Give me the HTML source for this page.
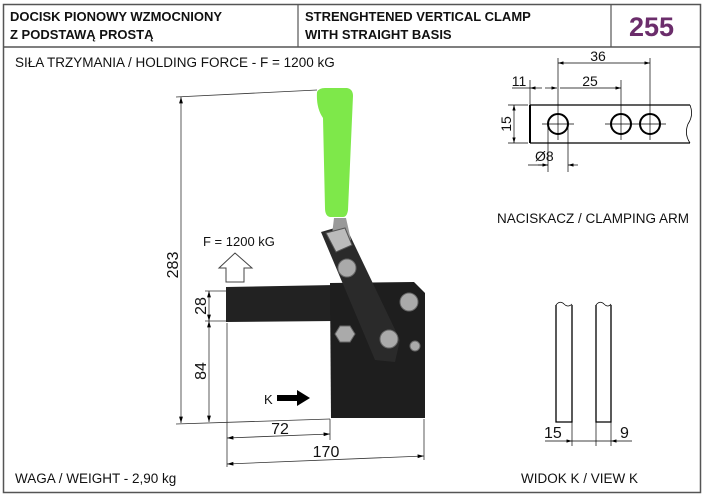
<!DOCTYPE html>
<html><head><meta charset="utf-8"><style>
html,body{margin:0;padding:0;background:#fff;}
svg{display:block;font-family:"Liberation Sans",sans-serif;}
</style></head><body>
<svg width="706" height="499" viewBox="0 0 706 499" xmlns="http://www.w3.org/2000/svg">
<defs>
<marker id="a" viewBox="0 0 10 6" refX="10" refY="3" markerWidth="8" markerHeight="5" orient="auto-start-reverse"><path d="M0,0L10,3L0,6z" fill="#000"/></marker>
</defs>
<rect x="3.5" y="4.5" width="697" height="488" fill="none" stroke="#555" stroke-width="1.5"/>
<line x1="3" y1="47" x2="701" y2="47" stroke="#555" stroke-width="1.5"/>
<line x1="298" y1="4" x2="298" y2="47" stroke="#555" stroke-width="1.2"/>
<line x1="611" y1="4" x2="611" y2="47" stroke="#555" stroke-width="1.2"/>
<g font-weight="bold" font-size="13" fill="#111">
<text x="10" y="21">DOCISK PIONOWY WZMOCNIONY</text>
<text x="10" y="39">Z PODSTAWĄ PROSTĄ</text>
<text x="305" y="21">STRENGHTENED VERTICAL CLAMP</text>
<text x="305" y="39">WITH STRAIGHT BASIS</text>
</g>
<text x="629" y="36" font-size="27" font-weight="bold" fill="#6b2d6b">255</text>
<g font-size="13.5" fill="#111">
<text x="15" y="67">SIŁA TRZYMANIA / HOLDING FORCE - F = 1200 kG</text>
<text x="15" y="483">WAGA / WEIGHT - 2,90 kg</text>
<text x="497" y="223">NACISKACZ / CLAMPING ARM</text>
<text x="521" y="483">WIDOK K / VIEW K</text>
</g>

<!-- clamp -->
<path d="M226,287 L335,285 L335,321 L226,322 Z" fill="#222"/>
<path d="M330,283 L414,282 L425,293 L425,418 L331,418 Z" fill="#1e1e1e"/>
<path d="M321,232 L345,225 L400,340 L395,362 L375,360 Z" fill="#2a2a2a"/>
<path d="M334,218 L346,218 L351,240 L331,243 Z" fill="#999"/>
<path d="M326,233 L345,228 L352,245 L336,252 Z" fill="#bbb" stroke="#555" stroke-width="1"/>
<path d="M317,92 Q319,88 325,88 L347,88 Q353,89 353,96 L348,210 Q347,217 343,217 L330,217 Q325,216 325,208 L323,118 Q316,108 317,92 Z" fill="#7ee84a"/>
<g fill="#aaa" stroke="#666" stroke-width="1">
<circle cx="347" cy="268" r="9"/><circle cx="409" cy="302" r="9"/><circle cx="389" cy="339" r="9"/>
<polygon points="340,326 350,326 355,334 350,342 340,342 335,334"/>
<circle cx="415" cy="346" r="5"/>
</g>
<!-- arrows -->
<path d="M219,268 L235,253 L252,268 L244,268 L244,282 L226,282 L226,268 Z" fill="#fff" stroke="#444"/>
<text x="203" y="246" font-size="13" fill="#111">F = 1200 kG</text>
<text x="264" y="404" font-size="13" fill="#111">K</text>
<path d="M277,395 L297,395 L297,390 L310,398 L297,406 L297,401 L277,401 Z" fill="#000"/>
<!-- dims -->
<g stroke="#333" stroke-width="0.8" fill="none">
<line x1="176" y1="97" x2="317" y2="90"/>
<line x1="176" y1="424" x2="330" y2="419"/>
<line x1="181" y1="97" x2="181" y2="423" marker-start="url(#a)" marker-end="url(#a)"/>
<line x1="205" y1="291" x2="226" y2="291"/>
<line x1="205" y1="321" x2="226" y2="321"/>
<line x1="209" y1="291" x2="209" y2="321" marker-start="url(#a)" marker-end="url(#a)"/>
<line x1="209" y1="321" x2="209" y2="422" marker-start="url(#a)" marker-end="url(#a)"/>
<line x1="227" y1="323" x2="227" y2="467"/>
<line x1="330" y1="419" x2="330" y2="440"/>
<line x1="424" y1="419" x2="424" y2="460"/>
<line x1="227" y1="438" x2="330" y2="434" marker-start="url(#a)" marker-end="url(#a)"/>
<line x1="227" y1="464" x2="424" y2="456" marker-start="url(#a)" marker-end="url(#a)"/>
</g>
<g font-size="16" fill="#111">
<text transform="translate(178,265) rotate(-90)" text-anchor="middle">283</text>
<text transform="translate(206,306) rotate(-90)" text-anchor="middle">28</text>
<text transform="translate(206,371) rotate(-90)" text-anchor="middle">84</text>
<text x="280" y="434" text-anchor="middle">72</text>
<text x="326" y="457" text-anchor="middle">170</text>
</g>

<!-- arm detail -->
<g stroke="#000" fill="none">
<path d="M530,105 L690,105 M530,143 L690,143" stroke-width="1.3"/>
<line x1="530" y1="105" x2="530" y2="143" stroke-width="2"/>
<path d="M690,105 Q694,115 688,124 Q684,134 690,143" stroke-width="0.8"/>
<circle cx="558" cy="124" r="10" stroke-width="2"/>
<circle cx="621" cy="124" r="10" stroke-width="2"/>
<circle cx="650" cy="124" r="10" stroke-width="2"/>
<g stroke-width="0.7">
<line x1="542" y1="124" x2="574" y2="124"/><line x1="605" y1="124" x2="666" y2="124"/>
<line x1="558" y1="58" x2="558" y2="140"/>
<line x1="621" y1="80" x2="621" y2="140"/>
<line x1="650" y1="58" x2="650" y2="140"/>
<line x1="530" y1="80" x2="530" y2="105"/>
<line x1="558" y1="63" x2="650" y2="63" marker-start="url(#a)" marker-end="url(#a)"/>
<line x1="560" y1="88" x2="621" y2="88" marker-end="url(#a)"/>
<line x1="512" y1="88" x2="530" y2="88"/>
<line x1="530" y1="88" x2="542" y2="88" marker-start="url(#a)"/>
<line x1="545" y1="88" x2="557" y2="88" marker-end="url(#a)"/>
<line x1="508" y1="105" x2="528" y2="105"/><line x1="508" y1="143" x2="528" y2="143"/>
<line x1="514" y1="105" x2="514" y2="143" marker-start="url(#a)" marker-end="url(#a)"/>
<line x1="548" y1="124" x2="548" y2="172"/><line x1="568" y1="124" x2="568" y2="172"/>
<line x1="528" y1="165" x2="548" y2="165"/>
<line x1="538" y1="165" x2="548" y2="165" marker-end="url(#a)"/>
<line x1="578" y1="165" x2="568" y2="165" marker-end="url(#a)"/>
</g>
</g>
<g font-size="14" fill="#111">
<text x="598" y="61" text-anchor="middle">36</text>
<text x="590" y="86" text-anchor="middle">25</text>
<text x="519" y="86" text-anchor="middle">11</text>
<text transform="translate(511,124) rotate(-90)" text-anchor="middle">15</text>
<text x="535" y="161">Ø8</text>
</g>

<!-- view K -->
<g stroke="#000" fill="none">
<path d="M556,305 L556,422 L572,422 L572,305" stroke-width="1.3"/>
<path d="M596,305 L596,422 L611,422 L611,305" stroke-width="1.3"/>
<path d="M556,305 Q560,300 564,304 Q568,308 572,304" stroke-width="0.7"/>
<path d="M596,305 Q600,300 604,304 Q608,308 611,304" stroke-width="0.7"/>
<g stroke-width="0.7">
<line x1="572" y1="422" x2="572" y2="446"/><line x1="596" y1="422" x2="596" y2="446"/><line x1="611" y1="422" x2="611" y2="446"/>
<line x1="545" y1="441" x2="572" y2="441" marker-end="url(#a)"/>
<line x1="572" y1="441" x2="611" y2="441"/>
<line x1="632" y1="441" x2="611" y2="441" marker-end="url(#a)"/>
</g>
</g>
<g font-size="16" fill="#111">
<text x="544" y="438">15</text>
<text x="620" y="438">9</text>
</g>
</svg>
</body></html>
